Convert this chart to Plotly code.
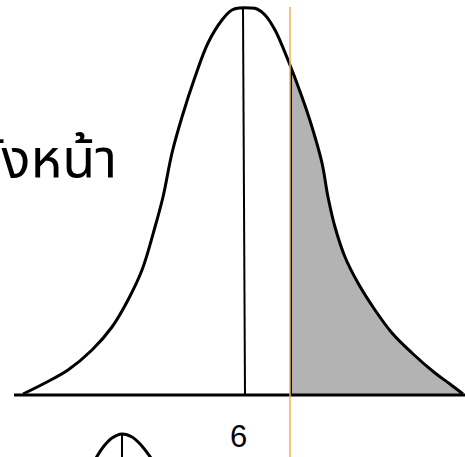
import plotly.graph_objects as go
import numpy as np

# Bell curve outline (pixel-like units, y downwards)
curve_x = [23, 45, 68, 92, 112, 128, 142, 155, 163, 172, 182, 195, 208, 222, 232, 240, 250, 257,
           265, 275, 288, 302, 312, 322, 328, 335, 345, 358, 375, 392, 412, 435, 450, 463]
curve_y = [394, 383, 370, 350, 327, 300, 270, 227, 197, 153, 117, 77, 43, 20, 10, 8, 8, 9,
           15, 30, 60, 97, 127, 163, 197, 227, 257, 283, 310, 333, 353, 373, 384, 394]

baseline_y = 395
axis_x = [14, 465]
mean_x = 245
cut_x = 291
cut_line_x = 290
label_text = "6"
label_x = 238
label_y = 436
title_text = "ถังหน้า"

# small partial curve at the bottom
small_x = [96, 104, 112, 122, 132, 141, 151]
small_y = [458, 446, 438, 434, 437, 445, 458]
small_mean_x = 122

fig = go.Figure()

# shaded tail: baseline trace, then tail curve filled to it
y_cut = float(np.interp(cut_x, curve_x, curve_y))
y_mean = float(np.interp(mean_x, curve_x, curve_y))
tail_x = [cut_x] + [x for x in curve_x if x > cut_x]
tail_y = [y_cut] + [y for x, y in zip(curve_x, curve_y) if x > cut_x]
fig.add_trace(go.Scatter(x=[cut_x, tail_x[-1]], y=[baseline_y, baseline_y], mode="lines",
                         line=dict(width=0), hoverinfo="skip"))
fig.add_trace(go.Scatter(x=tail_x, y=tail_y, mode="lines", fill="tonexty", fillcolor="#b3b3b3",
                         line=dict(width=0, shape="spline", smoothing=1.0), hoverinfo="skip"))

fig.add_trace(go.Scatter(x=curve_x, y=curve_y, mode="lines",
                         line=dict(color="black", width=3, shape="spline", smoothing=1.0)))
# mean line
fig.add_trace(go.Scatter(x=[mean_x - 2, mean_x], y=[y_mean, baseline_y], mode="lines",
                         line=dict(color="black", width=2)))
# cut edge line
fig.add_trace(go.Scatter(x=[cut_x, cut_x], y=[y_cut, baseline_y], mode="lines",
                         line=dict(color="black", width=2)))
# axis
fig.add_trace(go.Scatter(x=axis_x, y=[baseline_y, baseline_y], mode="lines",
                         line=dict(color="black", width=3)))
# small curve
fig.add_trace(go.Scatter(x=small_x, y=small_y, mode="lines",
                         line=dict(color="black", width=3, shape="spline")))
fig.add_trace(go.Scatter(x=[small_mean_x, small_mean_x], y=[min(small_y), 458], mode="lines",
                         line=dict(color="black", width=2)))
# orange line
fig.add_trace(go.Scatter(x=[cut_line_x, cut_line_x], y=[7, 458], mode="lines",
                         line=dict(color="#f0b15e", width=1.5)))

fig.add_annotation(x=label_x, y=label_y, text=label_text, showarrow=False,
                   font=dict(size=31, color="black", family="Liberation Sans"),
                   xanchor="center", yanchor="middle")
fig.add_annotation(x=119, y=160, text=title_text, showarrow=False,
                   font=dict(size=54, color="black", family="Noto Sans Thai, Noto Sans, sans-serif"),
                   xanchor="right", yanchor="middle")

fig.update_layout(width=465, height=457, margin=dict(l=0, r=0, t=0, b=0),
                  plot_bgcolor="white", paper_bgcolor="white", showlegend=False)
fig.update_xaxes(range=[0, 465], visible=False)
fig.update_yaxes(range=[457, 0], visible=False)

fig.write_html("out.html", config={"displayModeBar": False},
               post_script="document.body.style.margin='0';document.body.style.overflow='hidden';")
